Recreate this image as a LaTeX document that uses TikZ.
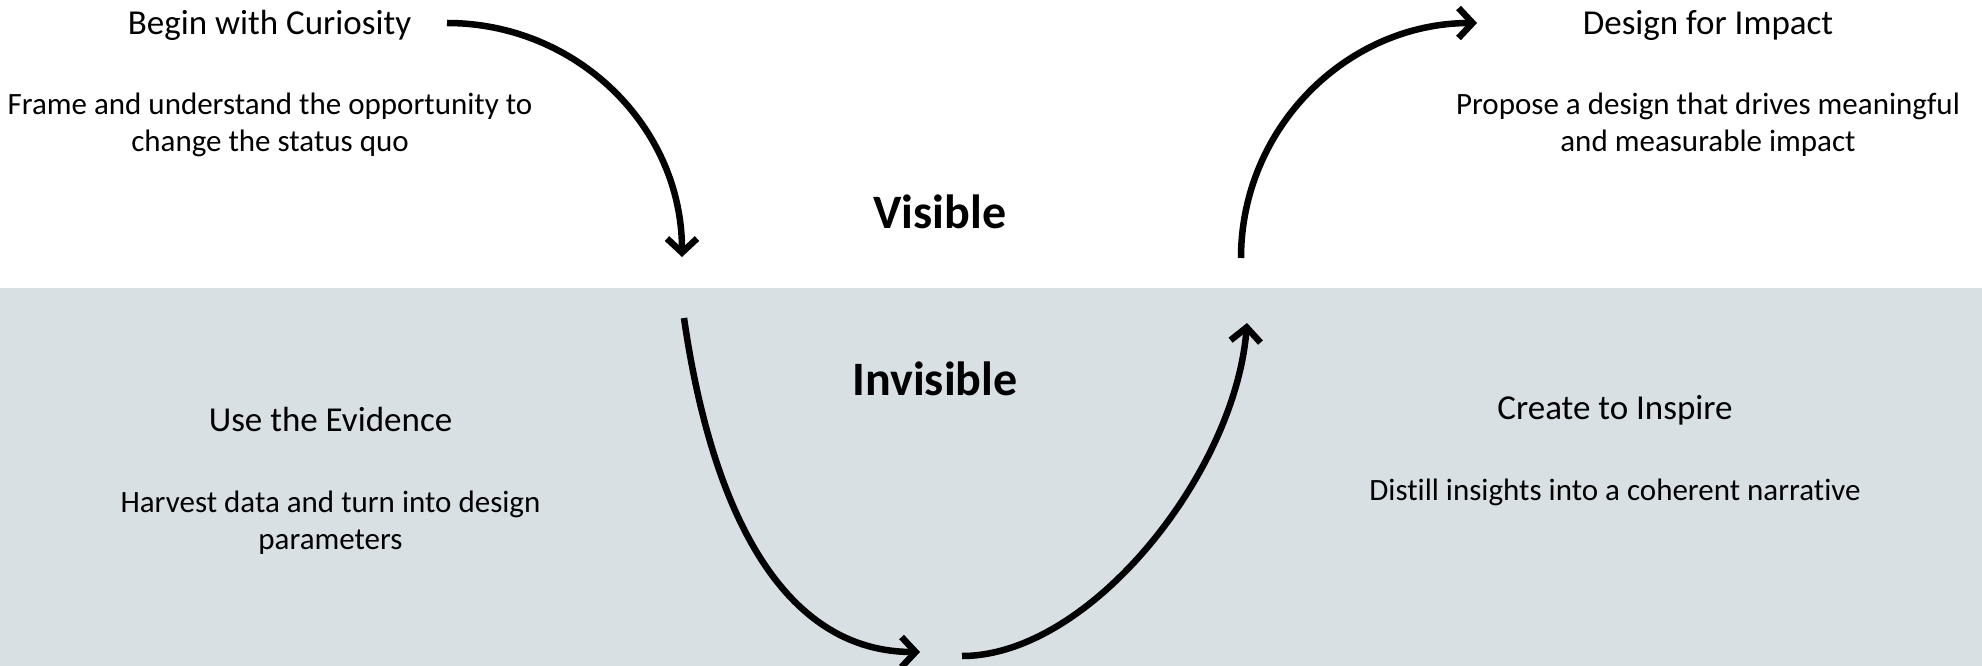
\documentclass[tikz,border=0pt]{standalone}
\usepackage{fontspec}
\setmainfont{Carlito}[Ligatures=NoCommon]
\usetikzlibrary{arrows.meta}
\definecolor{band}{RGB}{217,224,228}
\begin{document}
\begin{tikzpicture}[x=1pt,y=-1pt,
  head/.style={font=\fontsize{35}{38}\selectfont, inner sep=0pt, anchor=base},
  body/.style={font=\fontsize{31}{37}\selectfont, inner sep=0pt, anchor=base, align=center},
  big/.style={font=\fontsize{48}{52}\selectfont\bfseries, inner sep=0pt, anchor=base},
  flow/.style={line width=6.5pt, -{Straight Barb[length=14pt,width=30pt]}}]
\useasboundingbox (0,0) rectangle (1982,666);
\fill[band] (0,288) rectangle (1982,666);
% texts (two-line nodes are placed by the baseline of their last line)
\node[head] (begin) at (269.5,35) {Begin with Curiosity};
\node[body] (frame) at (270,152) {Frame and understand the opportunity to\\change the status quo};
\node[head] (design) at (1708,35) {Design for Impact};
\node[body] (propose) at (1708,152) {Propose a design that drives meaningful\\and measurable impact};
\node[big] (visible) at (940,229) {Visible};
\node[big] (invisible) at (935,395) {Invisible};
\node[head] (evidence) at (330.5,431) {Use the Evidence};
\node[body] (harvest) at (330.5,549) {Harvest data and turn into design\\parameters};
\node[head] (create) at (1615,419) {Create to Inspire};
\node[body] (distill) at (1615,500) {Distill insights into a coherent narrative};
% arrow ends
\coordinate (a1s) at (447,23);
\coordinate (a1e) at (682,257);
\coordinate (a2s) at (684,318);
\coordinate (a2e) at (920,652);
\coordinate (a3s) at (962,656);
\coordinate (a3e) at (1247,323);
\coordinate (a4s) at (1241,258);
\coordinate (a4e) at (1477,23);
\draw[flow] (a1s) .. controls (577,23) and (682,127) .. (a1e);
\draw[flow] (a2s) .. controls (714,526) and (790,652) .. (a2e);
\draw[flow] (a3s) .. controls (1090,656) and (1235,473) .. (a3e);
\draw[flow] (a4s) .. controls (1241,128) and (1347,23) .. (a4e);
\end{tikzpicture}
\end{document}
